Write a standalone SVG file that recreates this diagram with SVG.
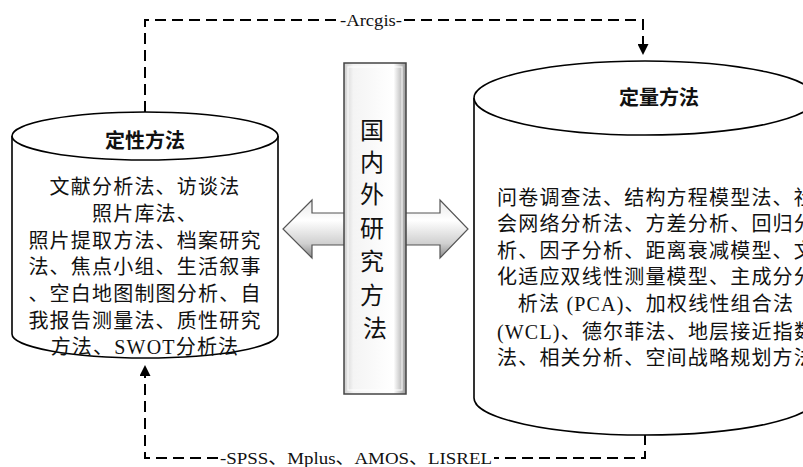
<svg xmlns="http://www.w3.org/2000/svg" width="803" height="467" viewBox="0 0 803 467">
<style>
.cyl{fill:#fff;stroke:#000;stroke-width:1.6}
.t{font-family:"Liberation Serif","Noto Sans CJK SC",serif;font-size:20px;letter-spacing:1.2px;fill:#111;text-anchor:middle}
.h{font-family:"Liberation Serif","Noto Sans CJK SC",serif;font-size:20px;font-weight:bold;fill:#111;text-anchor:middle}
.v{font-family:"Liberation Serif","Noto Sans CJK SC",serif;font-size:24px;fill:#111;text-anchor:middle}
.lab{font-family:"Liberation Serif","Noto Sans CJK SC",serif;font-size:17px;fill:#111}
.dash{fill:none;stroke:#000;stroke-width:2;stroke-dasharray:11 6}
</style>
<defs>
<marker id="ah" viewBox="0 0 10 10" refX="0" refY="5" markerUnits="userSpaceOnUse" markerWidth="14" markerHeight="11" orient="auto">
<path d="M0,0 L10,5 L0,10 Z" fill="#000"/>
</marker>
<linearGradient id="gv" x1="0" y1="0" x2="1" y2="0">
<stop offset="0" stop-color="#cfcfcf"/>
<stop offset="0.15" stop-color="#f4f4f4"/>
<stop offset="0.8" stop-color="#ffffff"/>
<stop offset="1" stop-color="#9a9a9a"/>
</linearGradient>
<linearGradient id="gh" x1="0" y1="0" x2="0" y2="1">
<stop offset="0" stop-color="#e8e8e8"/>
<stop offset="0.35" stop-color="#ffffff"/>
<stop offset="0.75" stop-color="#d0d0d0"/>
<stop offset="1" stop-color="#8a8a8a"/>
</linearGradient>
</defs>

<g id="connectors">
<path class="dash" d="M145,112 V20 H338"/>
<path class="dash" d="M404,20 H643 V44" marker-end="url(#ah)"/>
<path class="dash" d="M645,434 V458 H494"/>
<path class="dash" d="M218,458 H145 V376" marker-end="url(#ah)"/>
<rect x="339" y="10" width="64" height="20" fill="#fff"/>
<text class="lab" x="371" y="26" text-anchor="middle" textLength="62" lengthAdjust="spacingAndGlyphs">-Arcgis-</text>
<rect x="219" y="448" width="274" height="19" fill="#fff"/>
<text class="lab" x="220" y="464" textLength="272" lengthAdjust="spacingAndGlyphs">-SPSS、Mplus、AMOS、LISREL</text>
</g>

<g id="qualitative">
<path class="cyl" d="M12,136 V334 A133,24 0 0 0 278,334 V136"/>
<ellipse class="cyl" cx="145" cy="136" rx="133" ry="24"/>
<text class="h" x="145" y="148">定性方法</text>
<text class="t" x="145" y="194">文献分析法、访谈法</text>
<text class="t" x="145" y="221">照片库法、</text>
<text class="t" x="145" y="248">照片提取方法、档案研究</text>
<text class="t" x="145" y="274">法、焦点小组、生活叙事</text>
<text class="t" x="145" y="301">、空白地图制图分析、自</text>
<text class="t" x="145" y="328">我报告测量法、质性研究</text>
<text class="t" x="145" y="354">方法、SWOT分析法</text>
</g>

<g id="quantitative">
<path class="cyl" d="M474,98 V398 A171,37 0 0 0 816,398 V98"/>
<ellipse class="cyl" cx="645" cy="98" rx="171" ry="37"/>
<text class="h" x="659" y="105">定量方法</text>
<text class="t" x="656" y="205">问卷调查法、结构方程模型法、社</text>
<text class="t" x="656" y="231">会网络分析法、方差分析、回归分</text>
<text class="t" x="656" y="258">析、因子分析、距离衰减模型、文</text>
<text class="t" x="656" y="284">化适应双线性测量模型、主成分分</text>
<text class="t" x="656" y="311">析法 (PCA)、加权线性组合法</text>
<text class="t" x="656" y="339">(WCL)、德尔菲法、地层接近指数</text>
<text class="t" x="656" y="365">法、相关分析、空间战略规划方法</text>
</g>

<g id="center">
<path d="M312,213 H440 V200 L468,229 L440,258 V245 H312 V258 L283,229 L312,200 Z" fill="url(#gh)" stroke="#555" stroke-width="1.2"/>
<rect x="344" y="63" width="62" height="331" fill="url(#gv)" stroke="#444" stroke-width="1.5"/>
<rect x="348" y="67" width="54" height="323" fill="none" stroke="#fff" stroke-width="1.2" opacity="0.8"/>
<text class="v">
<tspan x="375" y="139">国</tspan>
<tspan x="375" y="171">内</tspan>
<tspan x="375" y="203">外</tspan>
<tspan x="375" y="237">研</tspan>
<tspan x="375" y="270">究</tspan>
<tspan x="375" y="304">方</tspan>
<tspan x="375" y="337">法</tspan>
</text>
</g>
</svg>
